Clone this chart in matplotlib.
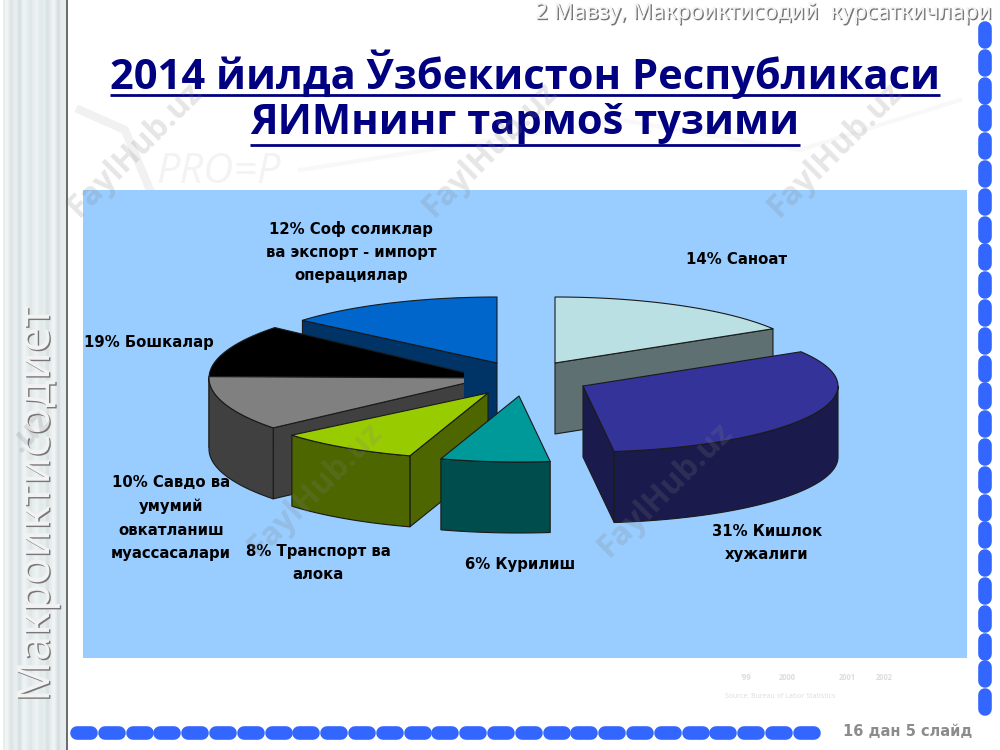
"""Slide with an exploded 3D pie of Uzbekistan's 2014 GDP structure."""

import matplotlib.patheffects as pe
import matplotlib.pyplot as plt
import numpy as np
from matplotlib.patches import Polygon, Rectangle

# Slice sizes as drawn on the slide, clockwise from 12 o'clock. They differ a
# little from the printed labels, which are kept as text below.
slice_names = ["Саноат", "Кишлок", "Курилиш", "Транспорт", "Савдо", "Бошкалар", "Соф"]
drawn_shares = [16.3, 31.7, 6.9, 9.0, 11.3, 10.9, 13.8]

title_lines = ["2014 йилда Ўзбекистон Республикаси", "ЯИМнинг тармоš тузими"]
header_text = "2 Мавзу, Макроиктисодий  курсаткичлари"
side_text = "Макроиктисодиет"
footer_text = "16 дан 5 слайд"
watermark_texts = ["FaylHub.uz", "FaylHub.uz", "FaylHub.uz", "FaylHub.uz", "FaylHub.uz", ".uz"]

label_texts = [
    "12% Соф соликлар\nва экспорт - импорт\nоперациялар",
    "14% Саноат",
    "19% Бошкалар",
    "31% Кишлок\nхужалиги",
    "10% Савдо ва\nумумий\nовкатланиш\nмуассасалари",
    "8% Транспорт ва\nалока",
    "6% Курилиш",
]
label_xy = [(351, 252), (737, 260), (149, 343), (767, 543),
            (171, 518), (318, 563), (520, 565)]

# layout in pixels of the slide
centers = [(555, 363), (583, 386), (519, 396), (488, 393), (487, 378), (487, 378), (497, 363)]
radii = [(255, 66), (255, 66), (255, 66), (255, 66), (278, 78), (278, 78), (255, 66)]
clip_right = [None, None, None, None, 464, 464, None]
depth = 71
top_colors = ["#BBE0E3", "#333399", "#009999", "#99CC00", "#808080", "#000000", "#0066CC"]
side_colors = ["#5E7072", "#1A1A4D", "#004D4D", "#4D6600", "#404040", "#000000", "#003366"]
draw_order = [6, 5, 4, 0, 1, 3, 2]

watermark_xy = [(135, 150), (490, 150), (835, 150), (315, 490), (665, 490), (30, 432)]
strip_x = [6, 11, 15, 19, 24, 30, 36, 41, 47, 53, 58, 63]
strip_grays = ["#F0F4F4", "#DDE5E6", "#E8EEEE", "#D8E1E3", "#EEF2F3", "#E0E7E8",
               "#ECF1F1", "#E3EAEA", "#DAE3E4", "#EFF3F3", "#D6DFE1", "#E6ECED"]

plt.rcParams["font.family"] = ["Open Sans", "DejaVu Sans"]


def wedge_points(center, radius, start, end, drop=0):
    """Return the arc between two compass angles (degrees) as screen points."""
    angles = np.radians(np.linspace(start, end, 60))
    xs = center[0] + radius[0] * np.sin(angles)
    ys = center[1] - radius[1] * np.cos(angles) + drop
    return np.column_stack([xs, ys])


def add_shape(axs, points, color, clip_x, edge="#1A1A1A", zorder=3):
    """Add one filled face of a slice, optionally cut at a vertical line."""
    patch = Polygon(points, closed=True, facecolor=color, edgecolor=edge,
                    linewidth=0.8, joinstyle="round", zorder=zorder)
    axs.add_patch(patch)
    if clip_x is not None:
        patch.set_clip_path(Rectangle((0, 0), clip_x, 750, transform=axs.transData))


def draw_slice(axs, idx, start, end):
    """Draw the visible side faces and the top of one slice."""
    center = np.array(centers[idx], dtype=float)
    radius = radii[idx]
    clip_x = clip_right[idx]
    color = side_colors[idx]
    below = np.array([0, depth])

    # only the radial faces turned towards the viewer
    for angle, visible in ((start, np.sin(np.radians(start)) < 0),
                           (end, np.sin(np.radians(end)) > 0)):
        if visible:
            rim = wedge_points(center, radius, angle, angle)[0]
            add_shape(axs, [center, rim, rim + below, center + below], color, clip_x)

    # outer wall, front half of the ellipse only
    low, high = max(start, 90), min(end, 270)
    if low < high:
        upper = wedge_points(center, radius, low, high)
        lower = wedge_points(center, radius, low, high, drop=depth)
        add_shape(axs, np.vstack([upper, lower[::-1]]), color, clip_x)

    arc = wedge_points(center, radius, start, end)
    add_shape(axs, np.vstack([center, arc]), top_colors[idx], clip_x)


def draw_background(axs):
    """Draw the textured left strip and the faint slide artwork."""
    axs.add_patch(Rectangle((3, 0), 64, 750, facecolor="#E7EDEE", edgecolor="none", zorder=0))
    for xpos, gray in zip(strip_x, strip_grays):
        axs.plot([xpos, xpos], [0, 750], color=gray, linewidth=2.5, zorder=0.5)
    axs.plot([67, 67], [0, 750], color="#444444", linewidth=1.1, zorder=1)

    faint = "#F1F1F1"
    axs.text(218, 172, "PRO=P", fontsize=30, style="italic", color="#F3F3F3",
             ha="center", va="center", zorder=0.5)
    axs.plot([80, 125, 150], [110, 130, 190], color=faint, linewidth=6, zorder=0.5)
    axs.plot([300, 620, 800, 960], [170, 120, 150, 100], color="#F8F8F8", linewidth=3, zorder=0.5)
    for xpos, year in zip([746, 787, 847, 884], ["'99", "2000", "2001", "2002"]):
        axs.text(xpos, 678, year, fontsize=5.5, color="#DDDDDD", fontweight="bold",
                 ha="center", va="center", zorder=0.5)
    axs.text(780, 696, "Source: Bureau of Labor Statistics", fontsize=5, color="#DDDDDD",
             ha="center", va="center", zorder=0.5)


def draw_pills(axs):
    """Draw the blue dashes along the right and bottom slide edges."""
    pill = {"color": "#3366FF", "linewidth": 9.8, "solid_capstyle": "round", "zorder": 6}
    for ypos in np.arange(21, 700, 27.8):
        axs.plot([985, 985], [ypos + 7, ypos + 21], **pill)
    for xpos in np.arange(70, 805, 27.8):
        axs.plot([xpos + 7, xpos + 21], [733, 733], **pill)


def draw_texts(axs):
    """Add the title, header, side text, labels and footer."""
    for line, ypos in zip(title_lines, [74, 124]):
        title = axs.text(525, ypos, line, fontsize=30, fontweight="bold", color="#000080",
                         ha="center", va="center", zorder=5)
        box = title.get_window_extent(axs.figure.canvas.get_renderer())
        axs.plot([box.x0, box.x1], [ypos + 20.5, ypos + 20.5], color="#000080",
                 linewidth=2, solid_capstyle="butt", zorder=5)

    emboss = [pe.withSimplePatchShadow(offset=(1, -1), shadow_rgbFace="#777777", alpha=1)]
    axs.text(991, 13, header_text, fontsize=16, color="#F4F4F4", ha="right", va="center",
             family=["Noto Sans", "DejaVu Sans"], path_effects=emboss, zorder=5)
    axs.text(37, 504, side_text, fontsize=32.5, color="#F2F2F2", rotation=90, ha="center",
             va="center", family=["Noto Sans", "DejaVu Sans"], path_effects=emboss, zorder=5)
    axs.text(908, 731, footer_text, fontsize=10.5, fontweight="bold", color="#8C8C8C",
             family="DejaVu Sans", ha="center", va="center", zorder=5)

    for text, (xpos, ypos) in zip(label_texts, label_xy):
        axs.text(xpos, ypos, text, fontsize=10.7, fontweight="bold", color="black",
                 family="DejaVu Sans", ha="center", va="center", linespacing=1.7, zorder=7)


def main():
    fig = plt.figure(figsize=(10, 7.5), dpi=100, facecolor="white")
    axs = fig.add_axes([0, 0, 1, 1])
    axs.set_xlim(0, 1000)
    axs.set_ylim(750, 0)
    axs.axis("off")

    draw_background(axs)
    axs.add_patch(Rectangle((83, 190), 884, 468, facecolor="#99CCFF", edgecolor="none", zorder=2))

    edges = np.concatenate([[0], np.cumsum(drawn_shares)]) / np.sum(drawn_shares) * 360
    for idx in draw_order:
        draw_slice(axs, idx, edges[idx], edges[idx + 1])

    draw_pills(axs)
    draw_texts(axs)

    for text, (xpos, ypos) in zip(watermark_texts, watermark_xy):
        axs.text(xpos, ypos, text, fontsize=23, fontweight="bold", color="#808080",
                 alpha=0.2, rotation=45, ha="center", va="center", zorder=8)

    fig.savefig("out.png", dpi=100)
    plt.close(fig)


main()
